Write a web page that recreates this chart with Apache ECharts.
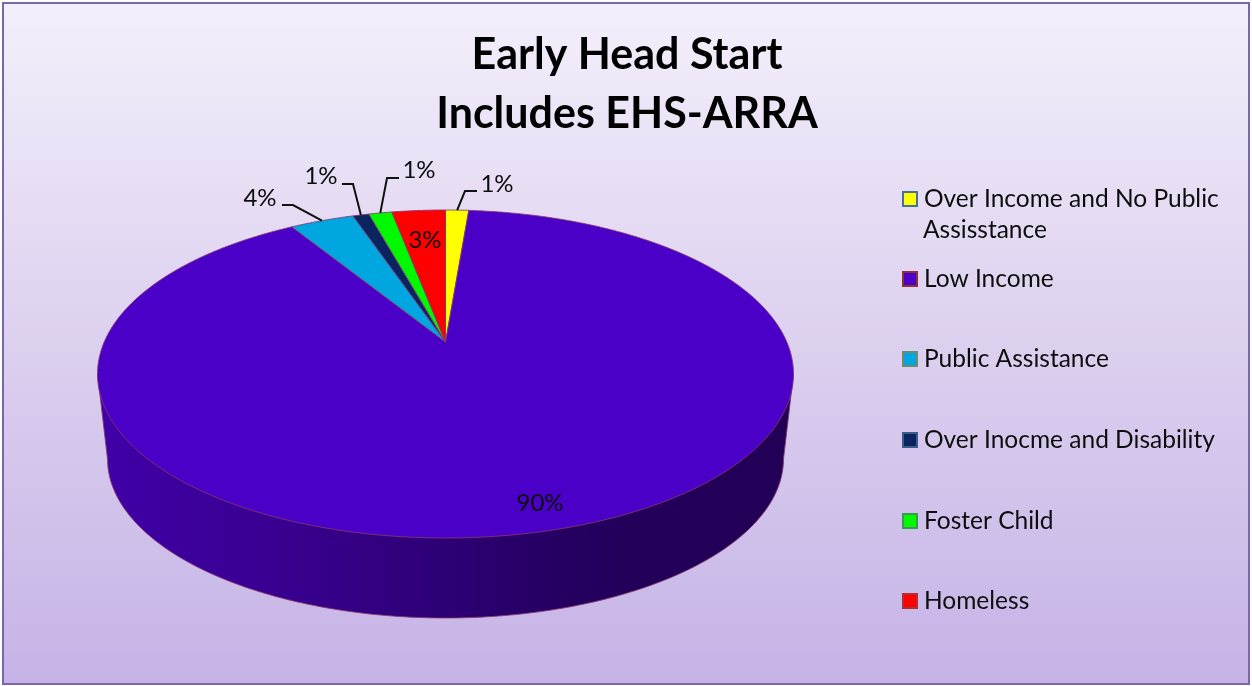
<!DOCTYPE html>
<html>
<head>
<meta charset="utf-8">
<title>Early Head Start</title>
<script src="https://cdn.jsdelivr.net/npm/echarts@6/dist/echarts.min.js"></script>
<style>
  html, body { margin: 0; padding: 0; background: #fff; }
  #chart { width: 1252px; height: 686px; }
</style>
</head>
<body>
<div id="chart"></div>
<script>
// slice order is clockwise from 12 o'clock
var categories = ["Over Income and No Public", "Low Income", "Public Assistance", "Over Inocme and Disability", "Foster Child", "Homeless"];
var percents = [1.3, 89.9, 3.6, 0.9, 1.3, 3.0];
var sliceColors = ["#ffff00", "#4a00c6", "#00a6e0", "#0a2460", "#00f800", "#ff0000"];
var legendBorders = ["#44709e", "#8c3038", "#6f8a70", "#3d5a88", "#3c9a50", "#b03030"];
var legendCenters = [199, 279, 359, 440, 521, 601];
var titleLines = ["Early Head Start", "Includes EHS-ARRA"];
var legendSecondLine = "Assisstance";

var FONT = "Lato";
var EDGE = "rgba(135,55,110,0.85)";

// the disc is seen in perspective: the pie centre sits above the ellipse centre
var disc = { cx: 445.5, cy: 374, rx: 348, ry: 164, apexY: 342 };
var wall = { cx: 445.5, cy: 459, rx: 338, ry: 159 };

// leader lines and label spots, index matches categories
var labelSpots = [
  { x: 497, y: 184, elbow: [[477, 191], [465, 191]] },
  { x: 540, y: 503 },
  { x: 260, y: 198, elbow: [[282, 205], [293, 205]] },
  { x: 321, y: 176, elbow: [[342, 184], [353, 184]] },
  { x: 419, y: 170, elbow: [[399, 178], [387, 178]] },
  { x: 425, y: 240 }
];

// angle in degrees clockwise from top -> pixel on the top face, r in 0..1
function project(deg, r) {
  var a = deg * Math.PI / 180;
  var u = r * Math.sin(a), v = -r * Math.cos(a);
  var shift = disc.cy - disc.apexY;
  var c = -shift / disc.ry;
  var k = disc.rx * Math.sqrt(1 - c * c);
  var den = 1 + c * v;
  return [disc.cx + k * u / den, disc.cy + (disc.ry * v - shift) / den];
}

function startAngle(i) {
  var sum = 0;
  for (var j = 0; j < i; j++) sum += percents[j];
  return sum * 3.6;
}

function makeRender(i) {
  return function (params, api) {
    var value = api.value(0);
    var from = startAngle(i), to = from + value * 3.6;
    var pts = [project(0, 0)];
    for (var d = from; d < to; d += 0.5) pts.push(project(d, 1));
    pts.push(project(to, 1));

    var children = [];
    if (i === 1) {
      // wall of the disc, only the big slice faces the viewer
      var wallPts = [[disc.cx - disc.rx, disc.cy]];
      for (var w = 180; w >= 0; w -= 1) {
        wallPts.push([wall.cx + wall.rx * Math.cos(w * Math.PI / 180), wall.cy + wall.ry * Math.sin(w * Math.PI / 180)]);
      }
      wallPts.push([disc.cx + disc.rx, disc.cy]);
      children.push({
        type: "polygon",
        shape: { points: wallPts },
        style: {
          fill: new echarts.graphic.LinearGradient(0, 0, 1, 0, [
            { offset: 0, color: "#4000a8" },
            { offset: 0.3, color: "#37008c" },
            { offset: 0.6, color: "#280068" },
            { offset: 0.75, color: "#22005a" },
            { offset: 1, color: "#220056" }
          ]),
          stroke: EDGE,
          lineWidth: 1
        }
      });
    }
    children.push({
      type: "polygon",
      shape: { points: pts },
      style: { fill: sliceColors[i], stroke: EDGE, lineWidth: 1 },
      z2: 1
    });

    var spot = labelSpots[i];
    if (spot.elbow) {
      var mid = project((from + to) / 2, 1);
      children.push({
        type: "polyline",
        shape: { points: spot.elbow.concat([mid]) },
        style: { fill: null, stroke: "#111", lineWidth: 2 },
        z2: 5
      });
    }
    children.push({
      type: "text",
      style: {
        x: spot.x, y: spot.y,
        text: Math.round(value) + "%",
        font: "24px " + FONT,
        fill: "#0d0d0d",
        align: "center",
        verticalAlign: "middle"
      },
      z2: 6
    });
    return { type: "group", children: children };
  };
}

var series = categories.map(function (name, i) {
  return {
    type: "custom",
    name: name,
    coordinateSystem: "none",
    silent: true,
    animation: false,
    data: [[percents[i]]],
    renderItem: makeRender(i)
  };
});

var legends = categories.map(function (name, i) {
  return {
    left: 902,
    top: legendCenters[i] - 14,
    padding: 0,
    orient: "vertical",
    itemWidth: 14,
    itemHeight: 14,
    selectedMode: false,
    icon: "rect",
    textStyle: { fontFamily: FONT, fontSize: 24.5, color: "#0d0d0d", padding: [0, 0, 0, 2], lineHeight: 28 },
    data: [{
      name: name,
      icon: "rect",
      itemStyle: { color: sliceColors[i], borderColor: legendBorders[i], borderWidth: 2 }
    }]
  };
});

var chart = echarts.init(document.getElementById("chart"));
chart.setOption({
  animation: false,
  backgroundColor: "#ffffff",
  title: {
    text: titleLines.join("\n"),
    left: 622,
    top: 21,
    textAlign: "center",
    textStyle: { fontFamily: FONT, fontSize: 43, fontWeight: "bold", color: "#000", lineHeight: 59 }
  },
  legend: legends,
  graphic: [
    {
      type: "rect",
      z: -10,
      silent: true,
      shape: { x: 3, y: 3, width: 1246, height: 681 },
      style: {
        fill: new echarts.graphic.LinearGradient(0, 0, 0, 1, [
          { offset: 0, color: "#f4effb" },
          { offset: 0.5, color: "#dcd0ef" },
          { offset: 1, color: "#c5b3e6" }
        ]),
        stroke: "#7a66aa",
        lineWidth: 2
      }
    },
    {
      type: "text",
      silent: true,
      style: {
        x: 923, y: 230,
        text: legendSecondLine,
        font: "24.5px " + FONT,
        fill: "#0d0d0d",
        verticalAlign: "middle"
      }
    }
  ],
  series: series
});
window.onresize = chart.resize;
</script>
</body>
</html>
